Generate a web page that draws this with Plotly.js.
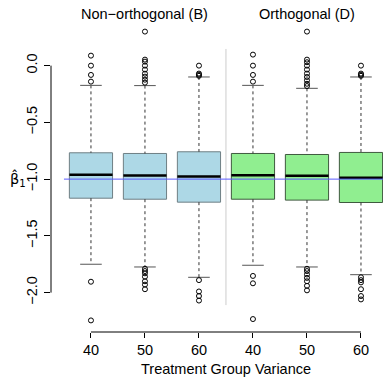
<!DOCTYPE html>
<html>
<head>
<meta charset="utf-8">
<script src="https://cdn.plot.ly/plotly-3.0.1.min.js"></script>
<style>html,body{margin:0;padding:0;background:#fff;}#plot{width:383px;height:381px;}</style>
</head>
<body>
<div id="plot"></div>
<script>
// ---- data ----
var groups = ["Non\u2212orthogonal (B)", "Orthogonal (D)"];
var tickLabels = ["40", "50", "60", "40", "50", "60"];
var positions = [1, 2, 3, 4, 5, 6];
var q1 = [-1.168, -1.177, -1.203, -1.177, -1.185, -1.206];
var medians = [-0.962, -0.968, -0.977, -0.965, -0.971, -0.988];
var q3 = [-0.768, -0.774, -0.759, -0.774, -0.783, -0.765];
var lowerWhisker = [-1.750, -1.774, -1.865, -1.759, -1.774, -1.842];
var upperWhisker = [-0.174, -0.176, -0.100, -0.174, -0.200, -0.100];
var outliers = [
  [0.088, 0.0, -0.082, -0.141, -1.904, -2.245],
  [0.30, 0.053, 0.035, 0.0, -0.035, -0.071, -0.097, -0.124, -0.15, -1.79, -1.81, -1.83, -1.86, -1.90, -1.93, -1.97],
  [0.0, -0.07, -0.08, -0.09, -1.89, -1.99, -2.03, -2.07],
  [0.097, 0.0, -0.082, -0.141, -1.853, -1.918, -2.233],
  [0.30, 0.053, 0.03, 0.0, -0.035, -0.07, -0.10, -0.13, -0.16, -0.18, -1.79, -1.81, -1.84, -1.87, -1.90, -1.94, -1.98],
  [0.0, -0.07, -0.08, -0.09, -1.865, -1.89, -1.91, -1.97, -2.03, -2.06]
];
var trueValue = -1.0;

// ---- styling ----
var fills = ["#ADD8E6", "#ADD8E6", "#ADD8E6", "#90EE90", "#90EE90", "#90EE90"];
var borders = ["#6f7f84", "#6f7f84", "#6f7f84", "#3f5a3f", "#3f5a3f", "#3f5a3f"];
var boxW = 0.8, capW = 0.4;
var font = "Liberation Sans, Arial, Helvetica, sans-serif";

var traces = [];
// whiskers (dashed) and caps
for (var i = 0; i < positions.length; i++) {
  var p = positions[i];
  traces.push({x: [p, p, null, p, p], y: [upperWhisker[i], q3[i], null, q1[i], lowerWhisker[i]],
    mode: "lines", line: {color: "#333", width: 1, dash: "3px,3px"}, hoverinfo: "skip", showlegend: false});
  traces.push({x: [p - capW / 2, p + capW / 2, null, p - capW / 2, p + capW / 2],
    y: [upperWhisker[i], upperWhisker[i], null, lowerWhisker[i], lowerWhisker[i]],
    mode: "lines", line: {color: "#555", width: 1}, hoverinfo: "skip", showlegend: false});
}
// boxes
for (var i = 0; i < positions.length; i++) {
  traces.push({type: "box", x: [positions[i]], q1: [q1[i]], median: [medians[i]], q3: [q3[i]],
    lowerfence: [q1[i]], upperfence: [q3[i]], width: boxW, fillcolor: fills[i],
    line: {color: borders[i], width: 1}, whiskerwidth: 0, boxpoints: false, showlegend: false, hoverinfo: "skip"});
}
// medians
for (var i = 0; i < positions.length; i++) {
  traces.push({x: [positions[i] - boxW / 2, positions[i] + boxW / 2], y: [medians[i], medians[i]],
    mode: "lines", line: {color: "#000", width: 2.5}, hoverinfo: "skip", showlegend: false});
}
// outliers
for (var i = 0; i < positions.length; i++) {
  traces.push({x: outliers[i].map(function () { return positions[i]; }), y: outliers[i], mode: "markers",
    marker: {symbol: "circle-open", size: 5, color: "#000", line: {width: 1}}, hoverinfo: "skip", showlegend: false});
}
// true-value line
traces.push({x: [0.5, 6.5], y: [trueValue, trueValue], mode: "lines",
  line: {color: "#5a5aff", width: 1}, hoverinfo: "skip", showlegend: false});

var layout = {
  width: 383, height: 381,
  margin: {l: 51, r: 0, t: 20, b: 49},
  paper_bgcolor: "#fff", plot_bgcolor: "#fff",
  font: {family: font, size: 14, color: "#000"},
  showlegend: false,
  xaxis: {range: [0.26, 6.408], tickvals: positions, ticktext: tickLabels, ticks: "outside", ticklen: 5,
    tickcolor: "#000", showgrid: false, zeroline: false, showline: false, fixedrange: true,
    tickfont: {size: 14.5}, ticklabelstandoff: 0},
  yaxis: {range: [-2.347, 0.402], tickvals: [0, -0.5, -1, -1.5, -2], ticktext: ["0.0", "\u22120.5", "\u22121.0", "\u22121.5", "\u22122.0"],
    ticks: "outside", ticklen: 6, tickcolor: "#000", tickangle: -90, showgrid: false, zeroline: false,
    showline: false, fixedrange: true, tickfont: {size: 14.5}, ticklabelstandoff: 1},
  shapes: [
    {type: "line", xref: "paper", yref: "y", x0: 0, x1: 0, y0: 0, y1: -2, line: {color: "#000", width: 1}},
    {type: "line", xref: "x", yref: "paper", x0: 1, x1: 6, y0: 0, y1: 0, line: {color: "#000", width: 1}},
    {type: "line", xref: "x", yref: "y", x0: 3.5, x1: 3.5, y0: 0.147, y1: -2.11, line: {color: "#cccccc", width: 1}, layer: "below"}
  ],
  annotations: [
    {xref: "x", yref: "paper", x: 2, y: 1.0205, text: groups[0], showarrow: false, xanchor: "center", yanchor: "middle", font: {size: 14.5}},
    {xref: "x", yref: "paper", x: 5, y: 1.0205, text: groups[1], showarrow: false, xanchor: "center", yanchor: "middle", font: {size: 14.5}},
    {xref: "x", yref: "paper", x: 3.5, y: -0.119, text: "Treatment Group Variance", showarrow: false, xanchor: "center", yanchor: "middle", font: {size: 14.5}},
    {xref: "paper", yref: "y", x: 0, xshift: -43, y: -1, yshift: 0, text: "\u03B2\u0302<sub>1</sub>", showarrow: false, xanchor: "left", yanchor: "middle", font: {size: 14.5, family: "DejaVu Sans"}}
  ]
};

Plotly.newPlot("plot", traces, layout, {staticPlot: true, displayModeBar: false});
</script>
</body>
</html>
